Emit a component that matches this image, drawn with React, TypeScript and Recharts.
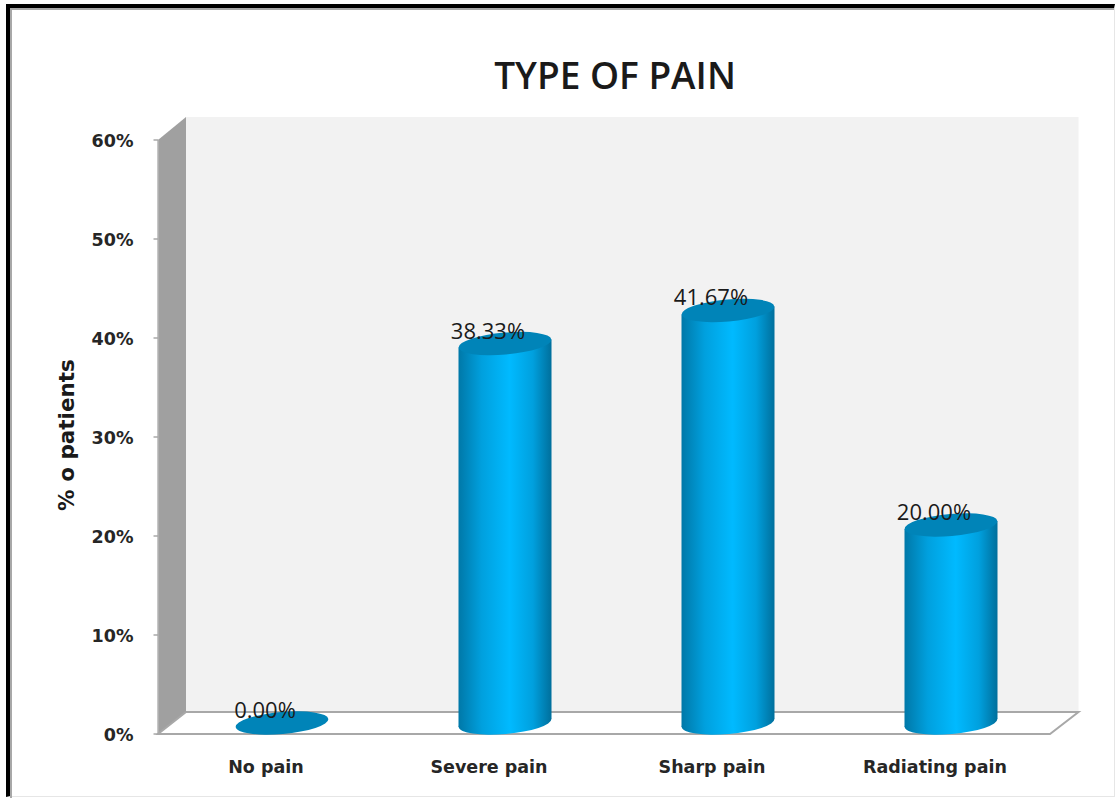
import React from "react";
import { Bar, BarChart, LabelList, ReferenceArea, XAxis, YAxis } from "recharts";

const categories = ["No pain", "Severe pain", "Sharp pain", "Radiating pain"];
const shares = [0, 38.33, 41.67, 20];
const yTicks = [0, 10, 20, 30, 40, 50, 60];

const rows = categories.map((name, i) => ({ name, share: shares[i] }));

const FONT = "'Open Sans', 'Noto Sans', sans-serif";
const AXIS_FONT = "'DejaVu Sans', sans-serif";
const DEPTH_Y = 11;

// Perspective room behind the columns: back wall, side wall and floor.
function Room({ x, y, width, height }: any) {
  const frontL = x - 12.5;
  const frontR = x + width - 12.5;
  const backL = x + 15.5;
  const backR = x + width + 16;
  const frontTop = y + DEPTH_Y;
  const frontBot = y + height + DEPTH_Y;
  const backTop = y - 12;
  const backBot = y + height - DEPTH_Y;
  return (
    <g>
      <rect x={backL} y={backTop} width={backR - backL} height={backBot - backTop} fill="#f2f2f2" />
      <polygon
        points={`${frontL},${frontTop} ${backL},${backTop} ${backL},${backBot} ${frontL},${frontBot}`}
        fill="#a0a0a0"
      />
      <line x1={frontL} y1={frontTop} x2={frontL} y2={frontBot} stroke="#b4b4b4" strokeWidth={1.5} />
      <polyline
        points={`${backL},${backBot} ${backR},${backBot} ${frontR},${frontBot} ${frontL},${frontBot} ${backL},${backBot}`}
        fill="none"
        stroke="#a8a8a8"
        strokeWidth={2}
      />
    </g>
  );
}

// Cylinder with a tilted elliptical cap and base.
function Cylinder({ x, y, width, height }: any) {
  const rx = width / 2;
  const ry = 11;
  const tilt = -5;
  const cx = x + rx;
  const bottom = y + height;
  const rise = Math.sin((-tilt * Math.PI) / 180) * rx;
  return (
    <g>
      {height > 0 && (
        <>
          <ellipse cx={cx} cy={bottom} rx={rx} ry={ry} fill="url(#cylinderBody)" transform={`rotate(${tilt} ${cx} ${bottom})`} />
          <path
            d={`M${x},${y + rise} L${x + width},${y - rise} L${x + width},${bottom - rise} L${x},${bottom + rise} Z`}
            fill="url(#cylinderBody)"
          />
        </>
      )}
      <ellipse cx={cx} cy={y} rx={rx} ry={ry} fill="#0084b8" transform={`rotate(${tilt} ${cx} ${y})`} />
    </g>
  );
}

function PercentTick({ x, y, payload }: any) {
  return (
    <g>
      <line x1={x - 9} y1={y + DEPTH_Y} x2={x - 4} y2={y + DEPTH_Y} stroke="#a8a8a8" strokeWidth={1.5} />
      <text x={x - 29} y={y + DEPTH_Y + 7} textAnchor="end" fontFamily={AXIS_FONT} fontWeight={700} fontSize={17.5} fill="#262626">
        {`${payload.value}%`}
      </text>
    </g>
  );
}

export default function App() {
  return (
    <div style={{ position: "absolute", left: 0, top: 0, width: 1116, height: 798, background: "#fff", overflow: "hidden" }}>
      <div style={{ position: "absolute", left: 6, top: 4, width: 1109, height: 793, boxSizing: "border-box", borderLeft: "4px solid #000", borderTop: "4px solid #000", borderRight: "1px solid #e6e6e6", borderBottom: "1px solid #e6e6e6" }} />
      <div style={{ position: "absolute", left: 10, top: 8, width: 2, height: 790, background: "#a8a8a8" }} />
      <div style={{ position: "absolute", left: 10, top: 8, width: 1104, height: 2, background: "#a8a8a8" }} />
      <div style={{ position: "absolute", left: 415, width: 400, top: 51, textAlign: "center", fontFamily: FONT, fontWeight: 600, fontSize: 37, lineHeight: "48px", color: "#1a1a1a" }}>
        TYPE OF PAIN
      </div>
      <div style={{ position: "absolute", left: 0, top: 0 }}>
        <BarChart
          width={1116}
          height={798}
          data={rows}
          barSize={93}
          margin={{ top: 129, right: 53.5, bottom: 0, left: 100.5 }}
        >
          <defs>
            <linearGradient id="cylinderBody" x1="0" x2="1" y1="0" y2="0">
              <stop offset="0" stopColor="#0078a8" />
              <stop offset="0.25" stopColor="#00a0de" />
              <stop offset="0.55" stopColor="#00baff" />
              <stop offset="0.8" stopColor="#00a0de" />
              <stop offset="1" stopColor="#006f9c" />
            </linearGradient>
          </defs>
          <ReferenceArea x1={categories[0]} x2={categories[3]} y1={0} y2={60} shape={Room} />
          <XAxis
            dataKey="name"
            height={75}
            axisLine={false}
            tickLine={false}
            interval={0}
            tick={{ fontFamily: AXIS_FONT, fontWeight: 700, fontSize: 17.5, fill: "#262626", dx: -16, dy: 30 }}
          />
          <YAxis
            width={70}
            domain={[0, 60]}
            ticks={yTicks}
            axisLine={false}
            tickLine={false}
            tick={PercentTick}
          />
          <Bar dataKey="share" shape={Cylinder} isAnimationActive={false}>
            <LabelList
              dataKey="share"
              position="top"
              formatter={(v: number) => `${v.toFixed(2)}%`}
              dx={-17}
              dy={0}
              fontFamily={FONT}
              fontSize={22}
              fill="#1a1a1a"
            />
          </Bar>
        </BarChart>
      </div>
      <div style={{ position: "absolute", left: 66, top: 435, width: 0, height: 0 }}>
        <div style={{ position: "absolute", transform: "translate(-50%,-50%) rotate(-90deg)", whiteSpace: "nowrap", fontFamily: AXIS_FONT, fontWeight: 700, fontSize: 21.5, color: "#1a1a1a" }}>
          % o patients
        </div>
      </div>
    </div>
  );
}
